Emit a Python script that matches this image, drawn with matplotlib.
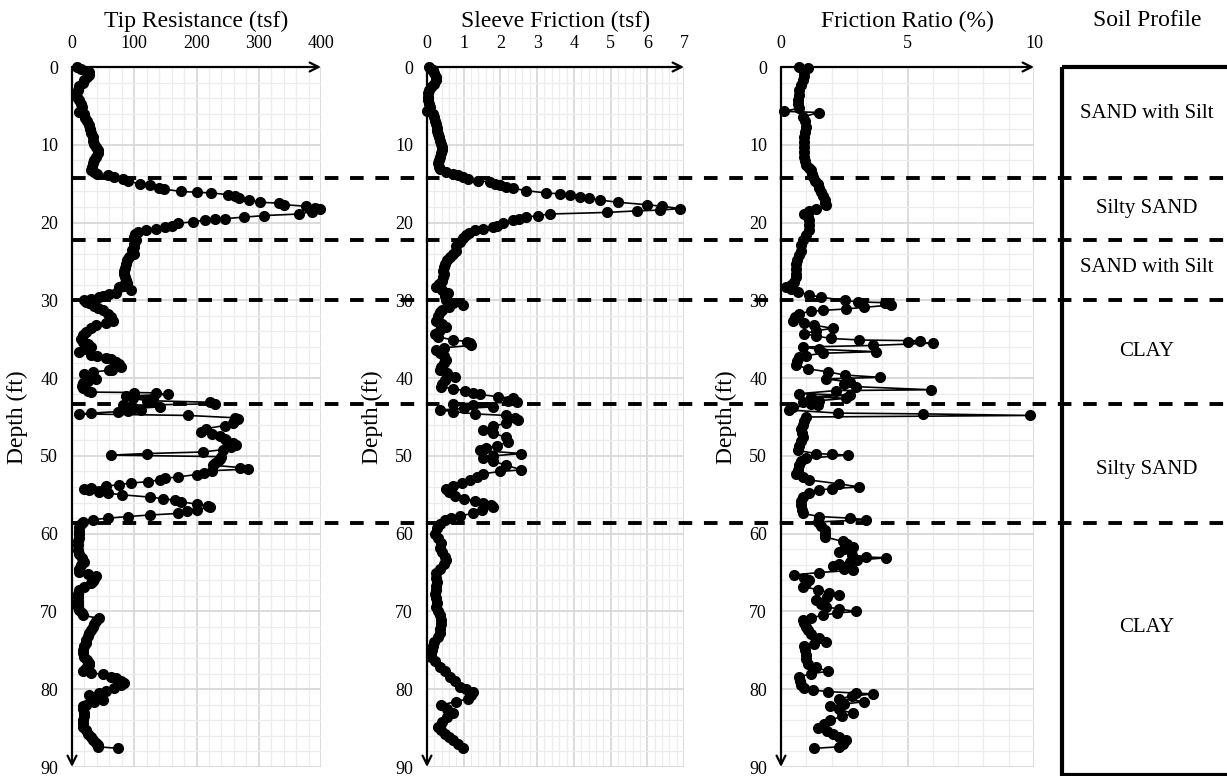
import matplotlib
matplotlib.use('Agg')
import matplotlib.pyplot as plt
from matplotlib.patches import Rectangle
from matplotlib.ticker import MultipleLocator

plt.rcParams['font.family'] = ['Liberation Serif', 'DejaVu Serif']

#%% Data

# Tip resistance (tsf)
qc_depth = [0.0, 0.3, 0.6, 1.0, 1.3, 1.7, 2.1, 2.5, 3.0, 3.5, 3.9, 4.3, 4.7, 5.2, 5.6, 5.8, 6.1, 6.5, 7.0, 7.5,
            8.0, 8.5, 9.0, 9.5, 9.9, 10.3, 10.7, 11.1, 11.6, 12.0, 12.4, 12.8, 13.2, 13.5, 13.7, 13.9, 14.1, 14.4, 14.7, 15.0,
            15.2, 15.5, 15.7, 16.0, 16.1, 16.2, 16.4, 16.6, 16.8, 17.1, 17.4, 17.5, 17.7, 17.9, 18.1, 18.3, 18.6, 18.9, 19.1, 19.3,
            19.5, 19.6, 19.7, 19.9, 20.1, 20.4, 20.6, 20.8, 21.0, 21.2, 21.5, 21.9, 22.3, 22.7, 23.1, 23.5, 24.0, 24.4, 24.8, 25.3,
            25.8, 26.2, 26.6, 27.0, 27.4, 27.8, 28.1, 28.3, 28.7, 29.0, 29.2, 29.4, 29.6, 29.8, 30.0, 30.2, 30.4, 30.7, 31.0, 31.3,
            31.7, 32.1, 32.6, 32.9, 33.2, 33.6, 34.1, 34.5, 35.0, 35.3, 35.6, 36.0, 36.3, 36.6, 37.0, 37.2, 37.4, 37.6, 37.9, 38.2,
            38.6, 38.9, 39.0, 39.2, 39.5, 39.8, 40.1, 40.4, 40.6, 41.0, 41.3, 41.6, 41.8, 41.85, 41.9, 42.1, 42.3, 42.5, 42.6, 42.9,
            43.1, 43.3, 43.5, 43.7, 43.9, 44.05, 44.2, 44.3, 44.5, 44.6, 44.8, 45.1, 45.3, 45.5, 45.8, 46.1, 46.5, 46.9, 47.2, 47.5,
            47.8, 48.0, 48.3, 48.6, 48.9, 49.2, 49.5, 49.7, 49.9, 50.1, 50.4, 50.6, 50.9, 51.2, 51.5, 51.7, 51.9, 52.2, 52.4, 52.7,
            52.9, 53.1, 53.3, 53.5, 53.7, 53.9, 54.1, 54.2, 54.4, 54.6, 54.8, 55.0, 55.3, 55.5, 55.7, 55.9, 56.2, 56.4, 56.6, 56.9,
            57.1, 57.4, 57.6, 57.8, 58.0, 58.2, 58.5, 58.8, 59.2, 59.6, 60.0, 60.5, 61.0, 61.5, 62.1, 62.6, 63.1, 63.6, 64.0, 64.5,
            64.9, 65.2, 65.5, 65.8, 66.1, 66.4, 66.8, 67.2, 67.7, 68.2, 68.7, 69.1, 69.4, 69.8, 70.2, 70.5, 70.9, 71.2, 71.6, 72.0,
            72.4, 72.8, 73.2, 73.7, 74.1, 74.5, 75.0, 75.4, 75.8, 76.2, 76.6, 76.9, 77.3, 77.7, 77.9, 78.1, 78.4, 78.6, 78.9, 79.2,
            79.5, 79.9, 80.2, 80.5, 80.7, 81.0, 81.4, 81.7, 82.0, 82.2, 82.6, 83.0, 83.5, 83.9, 84.3, 84.8, 85.2, 85.7, 86.1, 86.5,
            86.9, 87.2, 87.4, 87.6]
qc = [8, 15, 28, 27, 24, 20, 17, 12, 9, 7, 8, 12, 15, 16, 14, 12, 20, 21, 24, 27,
      29, 31, 33, 34, 36, 39, 42, 41, 39, 36, 34, 32, 31, 35, 40, 58, 68, 82, 90, 109,
      125, 140, 148, 175, 200, 224, 250, 262, 268, 285, 302, 333, 340, 376, 390, 398, 385, 365, 309, 277,
      245, 230, 213, 194, 170, 160, 150, 135, 119, 106, 101, 100, 103, 100, 99, 96, 100, 92, 88, 87,
      85, 84, 84, 85, 86, 88, 80, 76, 95, 70, 60, 50, 44, 30, 20, 22, 28, 35, 42, 50,
      58, 62, 66, 55, 39, 30, 23, 18, 15, 18, 25, 31, 20, 12, 30, 40, 55, 62, 71, 75,
      79, 65, 60, 34, 20, 25, 39, 25, 18, 16, 18, 25, 31, 100, 135, 154, 87, 130, 98, 120,
      221, 229, 82, 141, 100, 111, 90, 74, 30, 12, 186, 262, 266, 260, 258, 245, 215, 207, 225, 238,
      245, 248, 258, 264, 255, 242, 210, 120, 63, 240, 238, 235, 230, 226, 270, 282, 225, 212, 200, 170,
      150, 141, 122, 95, 75, 55, 30, 20, 28, 44, 58, 80, 125, 146, 165, 175, 200, 218, 222, 200,
      185, 170, 125, 90, 58, 34, 18, 14, 12, 12, 12, 11, 10, 10, 10, 12, 16, 20, 15, 12,
      12, 25, 39, 35, 33, 31, 20, 12, 10, 9, 10, 10, 10, 12, 16, 18, 44, 38, 35, 34,
      30, 27, 25, 23, 22, 20, 18, 18, 20, 24, 27, 28, 22, 18, 30, 50, 62, 71, 78, 84,
      78, 68, 55, 44, 28, 35, 50, 35, 22, 18, 18, 20, 20, 18, 17, 18, 22, 26, 30, 34,
      38, 42, 42, 74]

# Sleeve friction (tsf)
fs_depth = [0.0, 0.2, 0.4, 0.8, 1.3, 1.7, 2.2, 2.6, 3.0, 3.4, 3.9, 4.3, 4.7, 5.1, 5.6, 6.0, 6.4, 6.9, 7.3, 7.8,
            8.2, 8.6, 9.0, 9.5, 9.9, 10.3, 10.7, 11.1, 11.6, 12.0, 12.4, 12.8, 13.1, 13.5, 13.7, 13.9, 14.1, 14.4, 14.6, 14.8,
            15.0, 15.2, 15.4, 15.6, 15.9, 16.2, 16.3, 16.5, 16.7, 16.9, 17.1, 17.4, 17.7, 17.9, 18.2, 18.4, 18.5, 18.7, 18.9, 19.1,
            19.3, 19.5, 19.7, 20.1, 20.4, 20.6, 20.8, 21.0, 21.3, 21.6, 22.0, 22.5, 23.0, 23.6, 24.0, 24.4, 24.8, 25.3, 25.7, 26.2,
            26.6, 27.0, 27.5, 27.9, 28.3, 28.7, 29.1, 29.5, 30.0, 30.3, 30.6, 30.9, 31.2, 31.5, 32.0, 32.6, 33.0, 33.4, 33.8, 34.3,
            34.7, 35.1, 35.3, 35.5, 35.8, 36.1, 36.4, 36.8, 37.2, 37.7, 38.1, 38.6, 39.0, 39.4, 39.9, 40.3, 40.7, 41.1, 41.4, 41.6,
            41.9, 42.1, 42.4, 42.6, 42.9, 43.1, 43.3, 43.5, 43.7, 43.9, 44.1, 44.3, 44.6, 44.8, 45.1, 45.4, 45.8, 46.2, 46.7, 47.1,
            47.6, 48.2, 48.7, 49.0, 49.3, 49.7, 50.0, 50.3, 50.7, 51.2, 51.8, 52.0, 52.3, 52.7, 53.1, 53.5, 53.9, 54.2, 54.6, 55.1,
            55.5, 55.8, 56.1, 56.3, 56.6, 57.0, 57.4, 57.7, 58.0, 58.3, 58.7, 59.3, 60.0, 60.6, 61.2, 61.8, 62.4, 63.0, 63.4, 63.9,
            64.5, 65.1, 65.7, 66.2, 66.7, 67.2, 67.8, 68.3, 68.9, 69.4, 70.0, 70.5, 71.1, 71.6, 72.2, 72.8, 73.3, 73.9, 74.5, 75.0,
            75.5, 75.8, 76.4, 77.1, 77.7, 78.4, 79.0, 79.7, 80.0, 80.3, 80.7, 81.2, 81.6, 82.0, 82.5, 83.1, 83.6, 84.2, 84.8, 85.2,
            85.7, 86.1, 86.5, 87.0, 87.6]
fs = [0.05, 0.10, 0.16, 0.20, 0.24, 0.25, 0.18, 0.12, 0.06, 0.03, 0.03, 0.03, 0.05, 0.07, 0.00, 0.16, 0.18, 0.22, 0.25, 0.27,
      0.28, 0.30, 0.33, 0.36, 0.39, 0.40, 0.40, 0.39, 0.36, 0.33, 0.30, 0.32, 0.35, 0.53, 0.70, 0.85, 0.98, 1.12, 1.39, 1.71,
      1.85, 1.98, 2.15, 2.35, 2.71, 3.25, 3.62, 3.89, 4.16, 4.40, 4.71, 5.21, 5.98, 6.39, 6.89, 6.35, 5.71, 4.89, 3.35, 3.03,
      2.71, 2.50, 2.35, 2.07, 1.90, 1.80, 1.53, 1.30, 1.15, 1.07, 0.98, 0.89, 0.80, 0.80, 0.72, 0.62, 0.55, 0.48, 0.45, 0.44,
      0.45, 0.44, 0.40, 0.33, 0.25, 0.40, 0.57, 0.50, 0.53, 0.70, 0.98, 0.60, 0.40, 0.35, 0.30, 0.25, 0.40, 0.53, 0.35, 0.21,
      0.30, 0.71, 1.10, 1.16, 1.21, 0.45, 0.25, 0.35, 0.45, 0.53, 0.45, 0.38, 0.35, 0.55, 0.75, 0.50, 0.40, 0.39, 0.70, 1.03,
      1.25, 1.44, 1.94, 2.35, 2.20, 2.44, 0.71, 1.25, 1.80, 1.00, 0.35, 0.71, 1.30, 2.16, 2.40, 2.48, 2.16, 1.80, 1.53, 1.80,
      2.16, 2.21, 1.90, 1.60, 1.44, 2.57, 1.80, 1.53, 1.80, 2.16, 2.57, 2.00, 1.53, 1.35, 1.16, 0.95, 0.70, 0.53, 0.60, 0.75,
      1.00, 1.30, 1.53, 1.75, 1.80, 1.50, 1.25, 0.90, 0.66, 0.50, 0.35, 0.28, 0.21, 0.30, 0.39, 0.35, 0.40, 0.50, 0.53, 0.45,
      0.35, 0.25, 0.25, 0.28, 0.25, 0.25, 0.22, 0.25, 0.28, 0.25, 0.30, 0.35, 0.39, 0.38, 0.35, 0.35, 0.30, 0.20, 0.16, 0.14,
      0.12, 0.12, 0.22, 0.35, 0.48, 0.62, 0.75, 0.89, 1.05, 1.25, 1.20, 1.12, 0.80, 0.39, 0.55, 0.71, 0.55, 0.40, 0.30, 0.38,
      0.48, 0.60, 0.71, 0.85, 0.98]

# Friction ratio (%)
rf_depth = [0.0, 0.1, 0.6, 1.1, 1.7, 2.3, 3.0, 3.6, 4.3, 4.8, 5.3, 5.7, 5.85, 6.4, 7.0, 7.7, 8.3, 9.0, 9.6, 10.3,
            10.9, 11.6, 12.1, 12.6, 13.0, 13.3, 13.7, 14.1, 14.6, 15.0, 15.5, 16.1, 16.6, 17.1, 17.5, 17.8, 18.2, 18.5, 18.9, 19.3,
            19.7, 20.3, 21.0, 21.6, 22.3, 22.9, 23.6, 24.2, 24.8, 25.3, 26.0, 26.6, 27.0, 27.6, 28.0, 28.3, 28.6, 28.9, 29.3, 29.6,
            30.0, 30.2, 30.3, 30.6, 30.9, 31.1, 31.3, 31.4, 31.7, 32.1, 32.6, 32.9, 33.2, 33.6, 33.9, 34.3, 34.6, 34.9, 35.1, 35.2,
            35.3, 35.5, 35.8, 36.0, 36.3, 36.6, 36.8, 37.1, 37.3, 37.8, 38.3, 38.8, 39.2, 39.6, 39.9, 40.1, 40.5, 40.8, 41.1, 41.5,
            41.6, 42.0, 42.2, 42.4, 42.6, 42.9, 43.1, 43.3, 43.5, 43.7, 44.1, 44.5, 44.6, 44.8, 45.0, 45.5, 46.0, 46.5, 47.0, 47.6,
            48.1, 48.7, 49.3, 49.7, 49.8, 49.9, 50.3, 50.7, 51.2, 51.8, 52.3, 52.7, 53.1, 53.6, 54.0, 54.2, 54.4, 54.8, 55.3, 55.8,
            56.3, 56.9, 57.4, 57.8, 58.0, 58.2, 58.5, 59.0, 59.5, 60.0, 60.4, 61.0, 61.3, 61.7, 62.0, 62.3, 62.7, 63.0, 63.1, 63.4,
            63.6, 63.9, 64.2, 64.5, 64.7, 65.0, 65.3, 65.7, 66.0, 66.4, 66.8, 67.2, 67.6, 67.9, 68.2, 68.5, 69.0, 69.4, 69.7, 70.0,
            70.2, 70.5, 70.8, 71.1, 71.5, 72.0, 72.4, 72.9, 73.4, 73.9, 74.2, 74.5, 75.0, 75.6, 76.1, 76.7, 77.2, 77.7, 78.0, 78.4,
            79.0, 79.5, 79.8, 80.1, 80.3, 80.5, 80.6, 80.9, 81.2, 81.6, 81.9, 82.2, 82.6, 83.1, 83.5, 84.0, 84.5, 85.0, 85.4, 85.7,
            86.1, 86.5, 87.0, 87.4, 87.6]
rf = [0.73, 1.06, 0.92, 0.90, 0.86, 0.80, 0.73, 0.70, 0.66, 0.66, 0.70, 0.13, 1.52, 0.86, 0.95, 0.99, 0.95, 0.92, 0.92, 0.92,
      0.92, 0.92, 0.95, 0.99, 1.10, 1.19, 1.22, 1.25, 1.35, 1.45, 1.50, 1.59, 1.65, 1.72, 1.75, 1.78, 1.39, 1.10, 0.92, 1.05,
      1.12, 1.12, 1.12, 1.00, 0.86, 0.80, 0.79, 0.72, 0.65, 0.59, 0.59, 0.59, 0.59, 0.50, 0.40, 0.20, 0.40, 0.66, 1.12, 1.59,
      2.51, 3.04, 4.10, 4.36, 3.30, 2.58, 1.65, 1.19, 0.73, 0.55, 0.46, 0.90, 1.32, 2.05, 1.40, 0.92, 1.40, 1.98, 3.10, 5.48,
      5.02, 6.01, 3.63, 0.86, 1.50, 3.76, 1.65, 1.00, 0.73, 0.65, 0.59, 1.06, 1.85, 2.51, 3.90, 1.78, 2.71, 2.50, 2.97, 5.94,
      2.18, 0.73, 2.71, 1.19, 2.58, 1.50, 0.86, 1.20, 1.45, 0.46, 0.33, 2.25, 5.61, 9.84, 0.99, 0.90, 0.85, 0.79, 0.82, 0.86,
      0.80, 0.72, 0.66, 1.39, 2.00, 2.64, 1.00, 0.80, 0.73, 0.68, 0.59, 0.85, 1.12, 2.31, 3.10, 2.00, 1.52, 1.10, 0.86, 0.79,
      0.80, 0.82, 0.86, 1.52, 2.71, 3.37, 1.45, 1.60, 1.72, 1.72, 1.72, 2.44, 2.60, 2.84, 2.50, 2.31, 2.80, 3.37, 4.16, 3.00,
      2.71, 2.30, 2.05, 2.50, 2.84, 1.50, 0.53, 0.90, 1.12, 1.00, 0.86, 1.45, 1.90, 2.31, 1.80, 1.39, 1.60, 1.78, 2.30, 2.97,
      2.20, 1.65, 1.20, 0.86, 0.90, 1.00, 1.06, 1.20, 1.50, 1.78, 1.30, 0.92, 0.95, 0.99, 1.00, 1.06, 1.40, 1.85, 1.20, 0.73,
      0.75, 0.79, 0.90, 1.25, 1.85, 2.97, 3.63, 2.80, 2.31, 3.30, 2.50, 1.92, 2.30, 2.84, 2.40, 1.92, 1.70, 1.45, 1.80, 2.05,
      2.30, 2.58, 2.45, 2.31, 1.32]

titles = ['Tip Resistance (tsf)', 'Sleeve Friction (tsf)', 'Friction Ratio (%)']
x_max = [400, 7, 10]
x_major = [100, 1, 5]
x_minor = [20, 0.2, 1]

layer_bounds = [14.3, 22.3, 30.0, 43.3, 58.6]
layer_names = ['SAND with Silt', 'Silty SAND', 'SAND with Silt', 'CLAY', 'Silty SAND', 'CLAY']
layer_label_depth = [6.0, 18.2, 25.8, 36.6, 51.7, 72.0]

#%% Figure

W, H = 1227, 776
fig = plt.figure(figsize=(W / 100, H / 100), dpi=100)

top_px, bot_px = 67, 767
bottom = 1 - bot_px / H
height = (bot_px - top_px) / H
panel_px = [(72, 321), (427, 684), (781, 1034)]

series = [(qc, qc_depth), (fs, fs_depth), (rf, rf_depth)]

for i in range(3):
    x0, x1 = panel_px[i]
    ax = fig.add_axes([x0 / W, bottom, (x1 - x0) / W, height])
    vals, dep = series[i]

    ax.set_xlim(0, x_max[i])
    ax.set_ylim(90, 0)
    ax.xaxis.set_major_locator(MultipleLocator(x_major[i]))
    ax.xaxis.set_minor_locator(MultipleLocator(x_minor[i]))
    ax.yaxis.set_major_locator(MultipleLocator(10))
    ax.yaxis.set_minor_locator(MultipleLocator(2))
    ax.grid(which='major', color='#d6d6d6', lw=1.2)
    ax.grid(which='minor', color='#ececec', lw=0.9)
    ax.set_axisbelow(True)
    ax.xaxis.tick_top()
    ax.tick_params(which='both', length=0, labelsize=13)
    ax.tick_params(axis='x', pad=11)
    ax.tick_params(axis='y', pad=10)
    for s in ax.spines.values():
        s.set_visible(False)

    ax.plot(vals, dep, '-o', color='black', ms=7, lw=1.2, clip_on=False, zorder=3)

    # axis arrows
    ax.annotate('', xy=(x_max[i], 0), xytext=(0, 0),
                arrowprops=dict(arrowstyle='->', lw=1.6, color='black', mutation_scale=16,
                                shrinkA=0, shrinkB=0), annotation_clip=False)
    ax.annotate('', xy=(0, 90), xytext=(0, 0),
                arrowprops=dict(arrowstyle='->', lw=1.6, color='black', mutation_scale=16,
                                shrinkA=0, shrinkB=0), annotation_clip=False)

    ax.set_ylabel('Depth (ft)', fontsize=17)
    ax.yaxis.set_label_coords(-44 / (x1 - x0), 0.5)

    fig.text((x0 + x1) / 2 / W, 1 - 21 / H, titles[i], ha='center', va='center', fontsize=17)

# soil profile column
sp = fig.add_axes([1062 / W, bottom, 170 / W, height])
sp.set_xlim(0, 1)
sp.set_ylim(90, 0)
sp.axis('off')
sp.add_patch(Rectangle((0, 0), 1, 91, fill=False, lw=3, edgecolor='black', clip_on=False))
for name, d in zip(layer_names, layer_label_depth):
    sp.text(0.5, d, name, ha='center', va='center', fontsize=15)
fig.text(1147 / W, 1 - 21 / H, 'Soil Profile', ha='center', va='center', fontsize=17)

# layer boundaries across the whole figure
ov = fig.add_axes([72 / W, bottom, 1 - 72 / W, height])
ov.set_xlim(0, 1)
ov.set_ylim(90, 0)
ov.axis('off')
for d in layer_bounds:
    ov.axhline(d, color='black', lw=2.8, linestyle=(0, (3.5, 3.0)), clip_on=False)

plt.savefig('out.png', dpi=100)
